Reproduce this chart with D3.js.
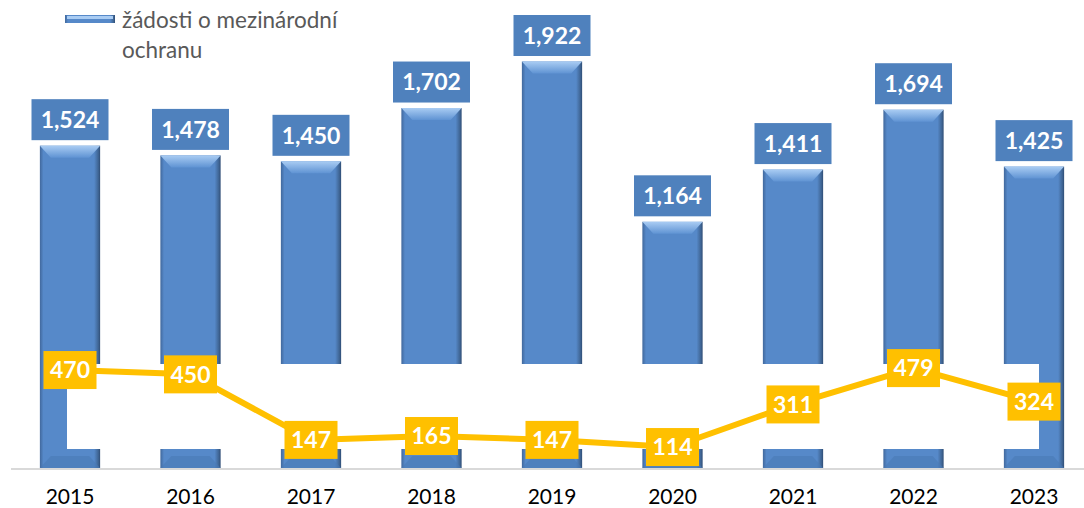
<!DOCTYPE html>
<html>
<head>
<meta charset="utf-8">
<script src="https://cdn.jsdelivr.net/npm/d3@7"></script>
<style>
  body { margin: 0; background: #fff; }
  svg { display: block; font-family: Lato, "Open Sans", sans-serif; }
</style>
</head>
<body>
<div id="chart"></div>
<script>
// data
var years = ["2015", "2016", "2017", "2018", "2019", "2020", "2021", "2022", "2023"];
var applications = [1524, 1478, 1450, 1702, 1922, 1164, 1411, 1694, 1425];
var lineValues = [470, 450, 147, 165, 147, 114, 311, 479, 324];
var legendLines = ["žádosti o mezinárodní", "ochranu"];

var width = 1084, height = 508;
var baseY = 468;

var svg = d3.select("#chart")
  .append("svg")
    .attr("width", width)
    .attr("height", height);

var defs = svg.append("defs");

// bar body gradient: darker edges like the excel bevel
var g1 = defs.append("linearGradient").attr("id", "barGrad")
  .attr("x1", "0").attr("x2", "1").attr("y1", "0").attr("y2", "0");
g1.append("stop").attr("offset", "0%").attr("stop-color", "#41689c");
g1.append("stop").attr("offset", "6%").attr("stop-color", "#5689c9");
g1.append("stop").attr("offset", "90%").attr("stop-color", "#5689c9");
g1.append("stop").attr("offset", "97%").attr("stop-color", "#3f6594");
g1.append("stop").attr("offset", "100%").attr("stop-color", "#2f4d75");

var g2 = defs.append("linearGradient").attr("id", "bevelGrad")
  .attr("x1", "0").attr("x2", "0").attr("y1", "0").attr("y2", "1");
g2.append("stop").attr("offset", "0%").attr("stop-color", "#a9ccf3");
g2.append("stop").attr("offset", "100%").attr("stop-color", "#5f93d3");

// X scale
var x = d3.scaleBand()
  .domain(years)
  .range([9.75, 1094.25])
  .paddingInner(0.5)
  .paddingOuter(0.25);

// Y scales (primary for bars, secondary for the line)
var y = d3.scaleLinear()
  .domain([0, 2000])
  .range([baseY, 45]);

var y2 = d3.scaleLinear()
  .domain([0, 2000])
  .range([471.7, 39.1]);

// baseline
svg.append("line")
  .attr("x1", 11).attr("x2", width)
  .attr("y1", baseY + 1).attr("y2", baseY + 1)
  .attr("stroke", "#d9d9d9")
  .attr("stroke-width", 2);

// bars
var bars = svg.append("g").selectAll("g")
  .data(applications)
  .enter().append("g");

bars.append("rect")
  .attr("x", (d, i) => x(years[i]))
  .attr("y", d => y(d))
  .attr("width", x.bandwidth())
  .attr("height", d => baseY - y(d))
  .attr("fill", "url(#barGrad)");

// top bevel
bars.append("path")
  .attr("d", (d, i) => {
    var x0 = x(years[i]), x1 = x0 + x.bandwidth(), t = y(d);
    return "M" + x0 + "," + t + "L" + x1 + "," + t +
      "L" + (x1 - 11) + "," + (t + 12) + "L" + (x0 + 11) + "," + (t + 12) + "Z";
  })
  .attr("fill", "url(#bevelGrad)");

// bottom bevel (subtle)
bars.append("path")
  .attr("d", (d, i) => {
    var x0 = x(years[i]), x1 = x0 + x.bandwidth();
    return "M" + (x0 + 11) + "," + (baseY - 12) + "L" + (x1 - 11) + "," + (baseY - 12) +
      "L" + x1 + "," + baseY + "L" + x0 + "," + baseY + "Z";
  })
  .attr("fill", "#4a7ab5")
  .attr("opacity", 0.6);

// white plot area of the secondary chart covering the bars
svg.append("rect")
  .attr("x", 67).attr("y", 364)
  .attr("width", 1039 - 67).attr("height", 449 - 364)
  .attr("fill", "#fff");

// bar value labels
var barLabels = svg.append("g").selectAll("g")
  .data(applications)
  .enter().append("g")
    .attr("transform", (d, i) => "translate(" + (x(years[i]) + x.bandwidth() / 2) + "," + (y(d) - 26) + ")");

barLabels.append("rect")
  .attr("x", -38.5).attr("y", -20.5)
  .attr("width", 77).attr("height", 41)
  .attr("fill", "#4f81bd");

barLabels.append("text")
  .attr("text-anchor", "middle")
  .attr("dy", "0.36em")
  .attr("fill", "#fff")
  .style("font-size", "23px")
  .style("font-weight", "bold")
  .text(d => d3.format(",")(d));

// line
var line = d3.line()
  .x((d, i) => x(years[i]) + x.bandwidth() / 2)
  .y(d => y2(d));

svg.append("path")
  .datum(lineValues)
  .attr("d", line)
  .attr("fill", "none")
  .attr("stroke", "#ffc000")
  .attr("stroke-width", 6)
  .attr("stroke-linejoin", "round");

var lineLabels = svg.append("g").selectAll("g")
  .data(lineValues)
  .enter().append("g")
    .attr("transform", (d, i) => "translate(" + (x(years[i]) + x.bandwidth() / 2) + "," + y2(d) + ")");

lineLabels.append("rect")
  .attr("x", -26.5).attr("y", -19)
  .attr("width", 53).attr("height", 38)
  .attr("fill", "#ffc000");

lineLabels.append("text")
  .attr("text-anchor", "middle")
  .attr("dy", "0.36em")
  .attr("fill", "#fff")
  .style("font-size", "23px")
  .style("font-weight", "bold")
  .text(d => d);

// x axis labels
svg.append("g").selectAll("text")
  .data(years)
  .enter().append("text")
    .attr("x", d => x(d) + x.bandwidth() / 2)
    .attr("y", 504)
    .attr("text-anchor", "middle")
    .attr("fill", "#000")
    .style("font-size", "21px")
    .text(d => d);

// legend
var legend = svg.append("g");
legend.append("rect")
  .attr("x", 65).attr("y", 15)
  .attr("width", 50).attr("height", 8)
  .attr("fill", "url(#barGrad)");
legend.append("rect")
  .attr("x", 67).attr("y", 16)
  .attr("width", 46).attr("height", 3)
  .attr("fill", "#a9ccf3");

legend.selectAll("text.leg")
  .data(legendLines)
  .enter().append("text")
    .attr("class", "leg")
    .attr("x", 122)
    .attr("y", (d, i) => 28 + i * 30)
    .attr("fill", "#595959")
    .style("font-size", "22.5px")
    .text(d => d);
</script>
</body>
</html>
